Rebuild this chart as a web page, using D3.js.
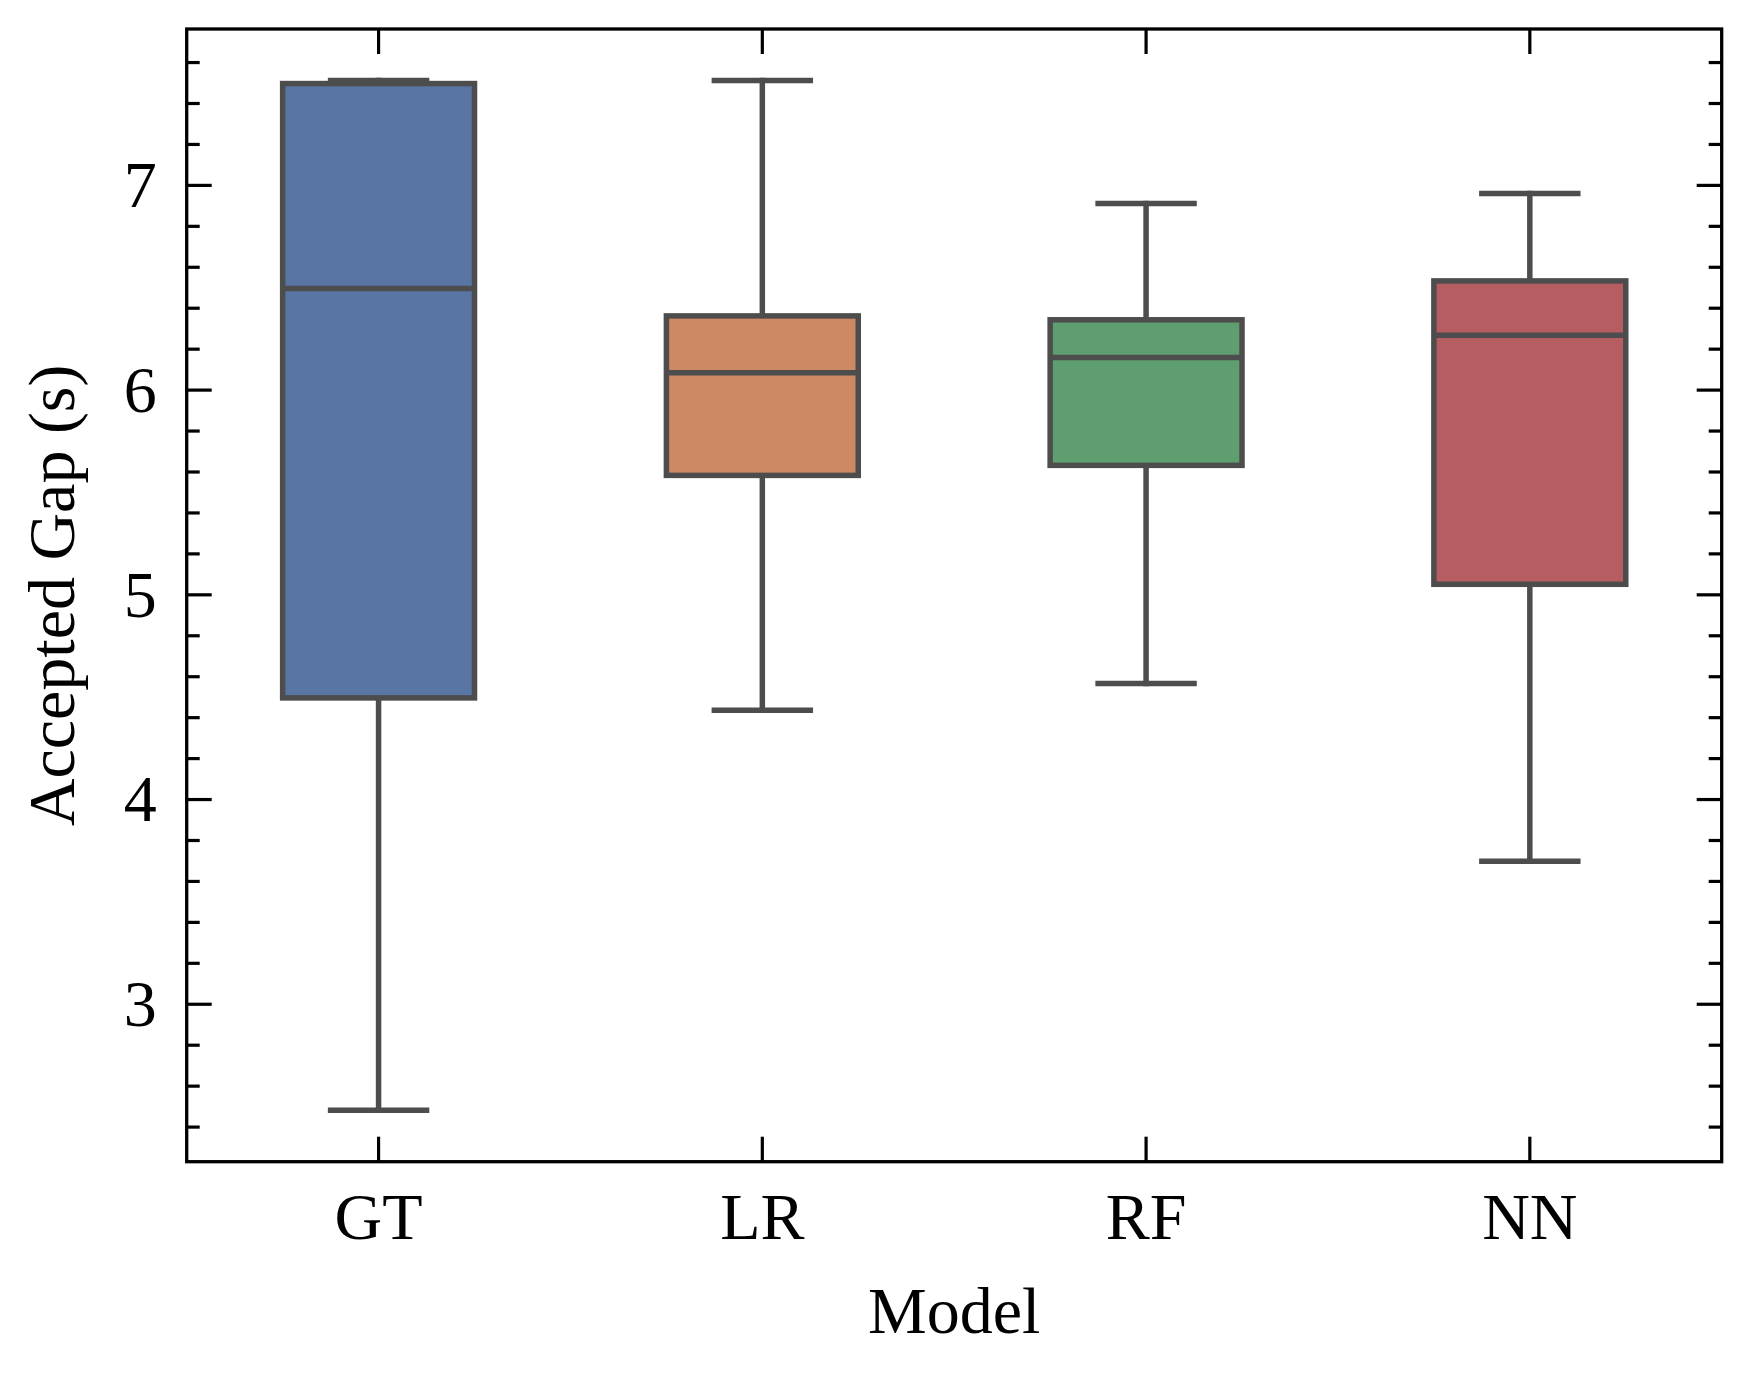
<!DOCTYPE html>
<html>
<head>
<meta charset="utf-8">
<script src="https://cdn.jsdelivr.net/npm/d3@7/dist/d3.min.js"></script>
<style>
  html, body { margin: 0; padding: 0; background: #ffffff; }
  svg { display: block; }
</style>
</head>
<body>
<svg id="chart" width="1751" height="1377"></svg>
<script>
// ---- data ----
const categories   = ["GT", "LR", "RF", "NN"];
const whiskerLow   = [2.48, 4.434, 4.565, 3.696];
const q1           = [4.494, 5.581, 5.630, 5.049];
const median       = [6.494, 6.082, 6.157, 6.265];
const q3           = [7.495, 6.360, 6.341, 6.531];
const whiskerHigh  = [7.51, 7.51, 6.909, 6.958];
const fillColors   = ["#5875a4", "#cc8963", "#5f9e6e", "#b55d60"];
const yTickValues  = [3, 4, 5, 6, 7];
const xLabel = "Model";
const yLabel = "Accepted Gap (s)";

(function () {
// ---- layout ----
const W = 1751, H = 1377;
const pL = 186.7, pR = 1721.7, pT = 29, pB = 1161.7;
const FONT = "'Liberation Serif', 'Times New Roman', serif";
const FS = 66;
const edge = "#4d4d4d";
const lw = 5.5;

const svg = d3.select("#chart");
svg.append("rect").attr("width", W).attr("height", H).attr("fill", "#fff");

const dMin = d3.min(whiskerLow), dMax = d3.max(whiskerHigh);
const pad = 0.05 * (dMax - dMin);
const y = d3.scaleLinear().domain([dMin - pad, dMax + pad]).range([pB, pT]);
const x = d3.scaleBand().domain(categories).range([pL, pR]).paddingInner(0).paddingOuter(0);
const bw = x.bandwidth();
const cx = c => x(c) + bw / 2;

const minorTicks = d3.range(24, 78, 2).map(v => v / 10)
  .filter(v => v >= y.domain()[0] && v <= y.domain()[1] && !yTickValues.includes(v));

// ---- boxes ----
const g = svg.append("g");
categories.forEach((c, i) => {
  const xc = cx(c);
  const boxW = bw * 0.5, capW = bw * 0.25;
  g.append("line").attr("x1", xc).attr("x2", xc).attr("y1", y(q1[i])).attr("y2", y(whiskerLow[i]))
    .attr("stroke", edge).attr("stroke-width", lw).attr("stroke-linecap", "square");
  g.append("line").attr("x1", xc).attr("x2", xc).attr("y1", y(q3[i])).attr("y2", y(whiskerHigh[i]))
    .attr("stroke", edge).attr("stroke-width", lw).attr("stroke-linecap", "square");
  [whiskerLow[i], whiskerHigh[i]].forEach(v => {
    g.append("line").attr("x1", xc - capW / 2).attr("x2", xc + capW / 2).attr("y1", y(v)).attr("y2", y(v))
      .attr("stroke", edge).attr("stroke-width", lw).attr("stroke-linecap", "square");
  });
  g.append("rect").attr("x", xc - boxW / 2).attr("width", boxW)
    .attr("y", y(q3[i])).attr("height", y(q1[i]) - y(q3[i]))
    .attr("fill", fillColors[i]).attr("stroke", edge).attr("stroke-width", lw);
  g.append("line").attr("x1", xc - boxW / 2).attr("x2", xc + boxW / 2)
    .attr("y1", y(median[i])).attr("y2", y(median[i]))
    .attr("stroke", edge).attr("stroke-width", lw);
});

// ---- axes ----
function styleAxis(sel) {
  sel.select(".domain").remove();
  sel.selectAll(".tick line").attr("stroke", "#000").attr("stroke-width", 3.2);
  sel.selectAll(".tick text").attr("fill", "#000").style("font-family", FONT).style("font-size", FS + "px");
}

svg.append("g").attr("transform", `translate(${pL},0)`)
  .call(d3.axisLeft(y).tickValues(yTickValues).tickSize(-25).tickPadding(30).tickFormat(d3.format("d")))
  .call(styleAxis)
  .selectAll(".tick text").attr("dy", "0.33em");
svg.append("g").attr("transform", `translate(${pL},0)`)
  .call(d3.axisLeft(y).tickValues(minorTicks).tickSize(-13).tickFormat(""))
  .call(styleAxis);
svg.append("g").attr("transform", `translate(${pR},0)`)
  .call(d3.axisRight(y).tickValues(yTickValues).tickSize(-25).tickFormat(""))
  .call(styleAxis);
svg.append("g").attr("transform", `translate(${pR},0)`)
  .call(d3.axisRight(y).tickValues(minorTicks).tickSize(-13).tickFormat(""))
  .call(styleAxis);
svg.append("g").attr("transform", `translate(0,${pB})`)
  .call(d3.axisBottom(x).tickSize(-25).tickPadding(30))
  .call(styleAxis);
svg.append("g").attr("transform", `translate(0,${pT})`)
  .call(d3.axisTop(x).tickSize(-25).tickFormat(""))
  .call(styleAxis);

svg.append("rect").attr("x", pL).attr("y", pT).attr("width", pR - pL).attr("height", pB - pT)
  .attr("fill", "none").attr("stroke", "#000").attr("stroke-width", 3.3);

svg.append("text").attr("x", (pL + pR) / 2).attr("y", 1332.7)
  .attr("text-anchor", "middle").style("font-family", FONT).style("font-size", FS + "px")
  .attr("fill", "#000").text(xLabel);
svg.append("text").attr("transform", `translate(74,${(pT + pB) / 2}) rotate(-90)`)
  .attr("text-anchor", "middle").style("font-family", FONT).style("font-size", FS + "px")
  .attr("fill", "#000").text(yLabel);
})();
</script>
</body>
</html>
